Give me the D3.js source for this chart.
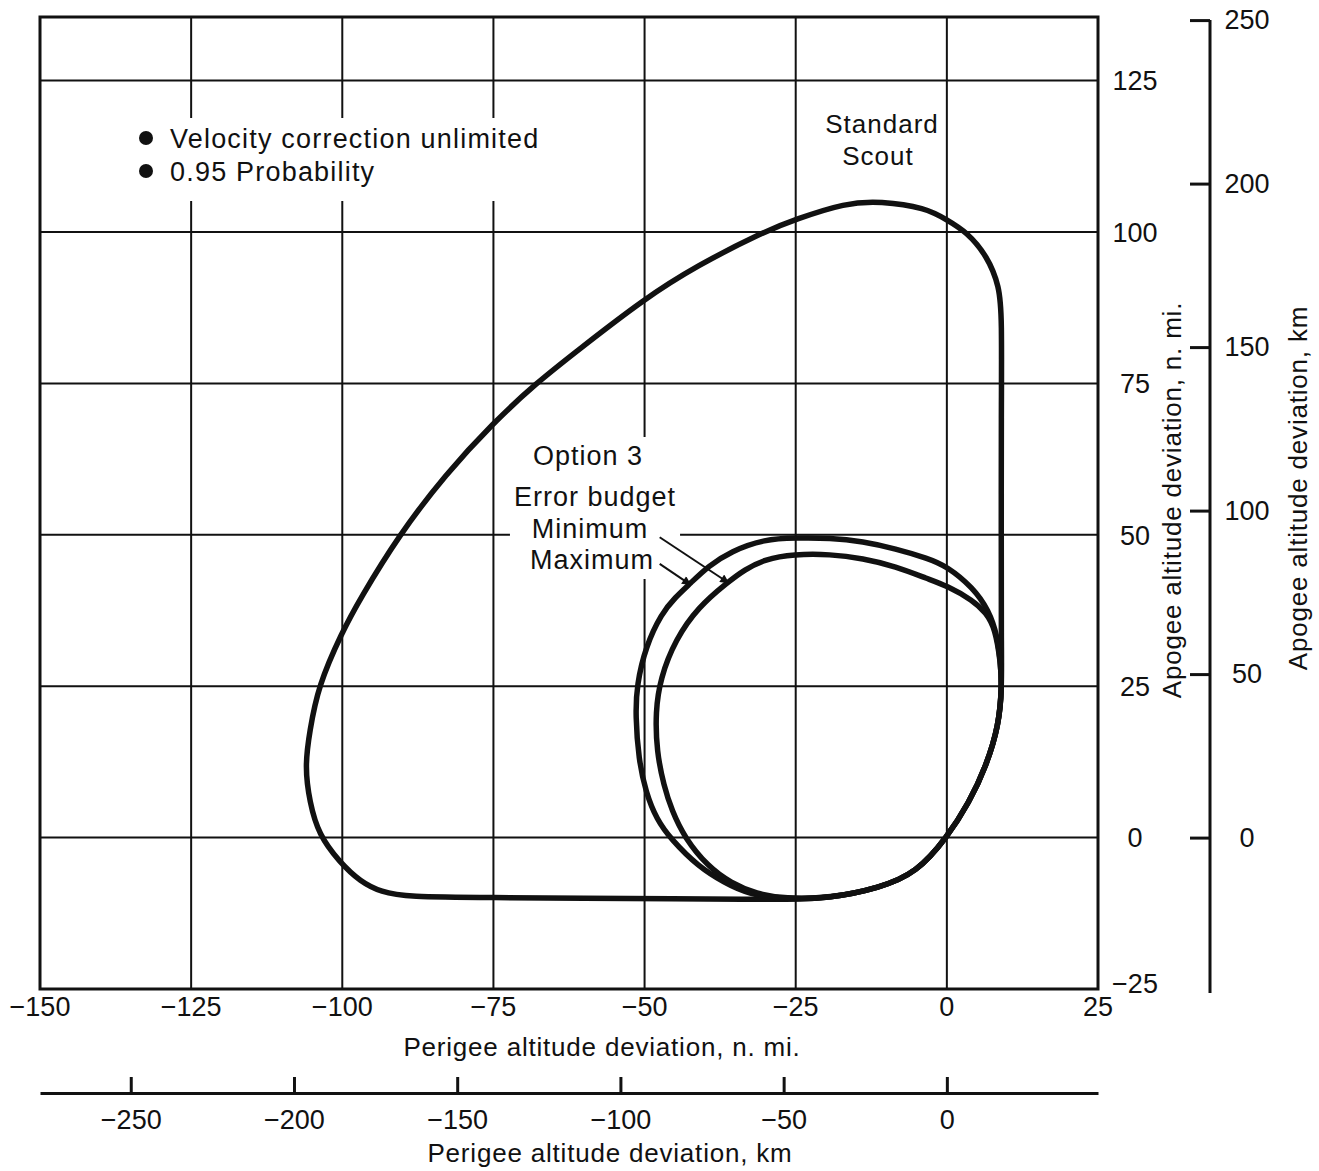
<!DOCTYPE html>
<html>
<head>
<meta charset="utf-8">
<script src="https://cdn.jsdelivr.net/npm/d3@7"></script>
<style>
  body { margin: 0; background: #fff; }
  text { font-family: "Liberation Sans", Arial, Helvetica, sans-serif; fill: #111; }
</style>
</head>
<body>
<svg id="chart" width="1319" height="1171"></svg>
<script>
// ---- tick values -------------------------------------------------------
const xTicksNmi = [-150, -125, -100, -75, -50, -25, 0, 25];
const yTicksNmi = [-25, 0, 25, 50, 75, 100, 125];
const xTicksKm = [-250, -200, -150, -100, -50, 0];
const yTicksKm = [0, 50, 100, 150, 200, 250];
const KM_PER_NMI = 1.852;

// ---- Standard Scout dispersion boundary (n. mi.) ------------------------
const scoutPerigee = [-89.5, -75, -60, -45, -32.9, -26.8, -19.3, -11.1, -5, 0, 3.7, 6.5, 8.6, 9.1, 9.0, 9.0, 9.0, 9.1,
  8.7, 6.7, 3.3, 0, -3.5, -11, -16.8, -25, -30.4, -41.4, -50, -61, -68, -75, -82.9, -90.6, -97.2, -100, -104,
  -105.4, -106.2, -105.4, -103.9, -100.5, -97, -93.5];
const scoutApogee = [-9.8, -9.9, -10, -10.1, -10.2, -10.2, -10, -8.3, -5.8, 0, 5.8, 11.8, 18.5, 25, 32, 50, 70, 86,
  91, 96, 100, 102, 104, 105.1, 104.8, 102.1, 100, 94.4, 89, 80.5, 75, 68.5, 60, 50, 39.2, 34, 25,
  17.5, 11.8, 5.8, 0.5, -4, -7.3, -9];

// ---- Option 3, maximum error budget (n. mi.) ----------------------------
const maxPerigee = [-13.9, -19.3, -25, -30.1, -35.7, -39.5, -42.4, -45, -47.2, -49.8, -51.3, -51.5, -51, -49.8, -48,
  -45.6, -41.1, -36.7, -32.9, -26.8, -19.3, -11.1, -5, 0, 3.7, 6.5, 8.6, 9.1, 8.9, 8.4, 6.9, 4.3, 0, -3.1, -8.5];
const maxApogee = [48.9, 49.5, 49.5, 49.3, 47.3, 44.8, 42, 39.6, 37, 31.6, 25.2, 20.2, 13, 7.5, 3,
  -0.3, -4.8, -7.5, -9.3, -10.2, -10, -8.3, -5.8, 0, 5.8, 11.8, 18.5, 25, 28.4, 33.2, 37.6, 41.3, 44.8, 46.1, 47.7];

// ---- Option 3, minimum error budget (n. mi.) ----------------------------
const minPerigee = [-13.9, -19.3, -25.3, -30.1, -33.5, -36.2, -41.1, -44.9, -47.4, -48.2, -48, -46.8, -45.5, -43.4,
  -39.5, -35.7, -31.5, -26.8, -19.3, -11.1, -5, 0, 3.7, 6.5, 8.6, 9.1, 8.9, 8.0, 6.5, 4.3, 0, -3.1, -8.5];
const minApogee = [46.1, 46.8, 46.8, 46, 44.2, 42.2, 38.1, 32.7, 26.3, 20.8, 14.2, 8.5, 4.5, 0,
  -4.8, -7.5, -9.3, -10.1, -10, -8.3, -5.8, 0, 5.8, 11.8, 18.5, 25, 28.8, 34.5, 37.1, 39.2, 41.6, 42.7, 44.8];

// ---- annotation text ----------------------------------------------------
const legendLines = ["Velocity correction unlimited", "0.95 Probability"];
const scoutLabel = ["Standard", "Scout"];
const optionLabel = ["Option 3", "Error budget", "Minimum", "Maximum"];
// leader lines: [start perigee, start apogee, end perigee, end apogee]
const minLeader = [-47.5, 49.6, -36.0, 42.0];
const maxLeader = [-47.5, 45.2, -42.3, 41.7];

// ---- scales ----------------------------------------------------------------
const svg = d3.select("#chart");
const L = 40, R = 1098, T = 17, B = 989;
const x = d3.scaleLinear().domain([-150, 25]).range([L, R]);
const y = d3.scaleLinear().domain([-25, 135.5]).range([B, T]);
const xKm = d3.scaleLinear().domain(x.domain().map(v => v * KM_PER_NMI)).range(x.range());
const yKm = d3.scaleLinear().domain(y.domain().map(v => v * KM_PER_NMI)).range(y.range());
const fmt = d3.format("d");

const gGrid = svg.append("g");
const gKnock = svg.append("g");
const gCurves = svg.append("g");
const gText = svg.append("g");

// ---- grid ------------------------------------------------------------------
gGrid.selectAll("line.vx").data(xTicksNmi.filter(v => v > -150 && v < 25)).join("line")
  .attr("x1", d => x(d)).attr("x2", d => x(d)).attr("y1", T).attr("y2", B)
  .attr("stroke", "#111").attr("stroke-width", 2);
gGrid.selectAll("line.hy").data(yTicksNmi.filter(v => v > -25)).join("line")
  .attr("x1", L).attr("x2", R).attr("y1", d => y(d)).attr("y2", d => y(d))
  .attr("stroke", "#111").attr("stroke-width", 2);
gGrid.append("rect").attr("x", L).attr("y", T).attr("width", R - L).attr("height", B - T)
  .attr("fill", "none").attr("stroke", "#111").attr("stroke-width", 3);

// ---- n. mi. tick labels ------------------------------------------------------
gText.selectAll("text.xl").data(xTicksNmi).join("text")
  .attr("x", d => x(d)).attr("y", 1016).attr("text-anchor", "middle")
  .attr("font-size", 27).text(d => fmt(d));
gText.selectAll("text.yl").data(yTicksNmi).join("text")
  .attr("x", 1135).attr("y", d => y(d) - (d === -25 ? 6 : 0)).attr("dy", "0.36em").attr("text-anchor", "middle")
  .attr("font-size", 27).text(d => fmt(d));

gText.append("text").attr("x", 602).attr("y", 1056).attr("text-anchor", "middle")
  .attr("font-size", 26).attr("letter-spacing", 0.8).text("Perigee altitude deviation, n. mi.");
gText.append("text").attr("transform", "translate(1181,500) rotate(-90)").attr("text-anchor", "middle")
  .attr("font-size", 26).attr("letter-spacing", 0.8).text("Apogee altitude deviation, n. mi.");

// ---- km axes ----------------------------------------------------------------
const axR = svg.append("g").attr("transform", "translate(1210,0)")
  .call(d3.axisLeft(yKm).tickValues(yTicksKm).tickSize(20).tickSizeOuter(0).tickFormat(fmt));
axR.select(".domain").attr("d", `M0,${yKm(250)}V${B + 4}`);
axR.selectAll("path,line").attr("stroke", "#111").attr("stroke-width", 3);
axR.selectAll("text").attr("x", 37).attr("text-anchor", "middle")
  .attr("font-size", 27).attr("font-family", null).attr("fill", "#111");
svg.append("text").attr("transform", "translate(1307,488) rotate(-90)").attr("text-anchor", "middle")
  .attr("font-size", 26).attr("letter-spacing", 0.8).text("Apogee altitude deviation, km");

const axB = svg.append("g").attr("transform", "translate(0,1093)")
  .call(d3.axisTop(xKm).tickValues(xTicksKm).tickSize(16).tickSizeOuter(0).tickFormat(fmt));
axB.selectAll("path,line").attr("stroke", "#111").attr("stroke-width", 3);
axB.selectAll("text").attr("y", 36).attr("dy", null)
  .attr("font-size", 27).attr("font-family", null).attr("fill", "#111");
svg.append("text").attr("x", 610).attr("y", 1162).attr("text-anchor", "middle")
  .attr("font-size", 26).attr("letter-spacing", 0.8).text("Perigee altitude deviation, km");

// ---- annotations inside the plot --------------------------------------------
const legend = gText.append("g");
legendLines.forEach((t, i) => {
  legend.append("circle").attr("cx", 146).attr("cy", 138 + i * 33).attr("r", 7).attr("fill", "#111");
  legend.append("text").attr("x", 170).attr("y", 148 + i * 33).attr("font-size", 27)
    .attr("letter-spacing", 1.2).text(t);
});

const scoutG = gText.append("g");
scoutLabel.forEach((t, i) => {
  scoutG.append("text").attr("x", 882 - i * 4).attr("y", 133 + i * 32).attr("text-anchor", "middle")
    .attr("font-size", 26).attr("letter-spacing", 1).text(t);
});

const optG = gText.append("g");
const optPos = [[588, 465], [595, 506], [590, 538], [592, 569]];
optionLabel.forEach((t, i) => {
  optG.append("text").attr("x", optPos[i][0]).attr("y", optPos[i][1]).attr("text-anchor", "middle")
    .attr("font-size", 27).attr("letter-spacing", 1).text(t);
});

// white knock-outs so grid lines stop short of the lettering
function knock(g, padX, padTop, padBot) {
  const b = g.node().getBBox();
  gKnock.append("rect").attr("x", b.x - padX).attr("y", b.y - padTop)
    .attr("width", b.width + 2 * padX).attr("height", b.height + padTop + padBot).attr("fill", "#fff");
}
knock(legend, 8, 6, 14);
knock(optG, 4, 4, 4);

// ---- curves -----------------------------------------------------------------
const line = d3.line().x(d => x(d[0])).y(d => y(d[1])).curve(d3.curveBasisClosed);
const zipPts = (a, b) => a.map((v, i) => [v, b[i]]);
[[scoutPerigee, scoutApogee], [maxPerigee, maxApogee], [minPerigee, minApogee]].forEach(([px, py]) => {
  gCurves.append("path").attr("d", line(zipPts(px, py)))
    .attr("fill", "none").attr("stroke", "#111").attr("stroke-width", 5.5).attr("stroke-linejoin", "round");
});

// ---- leader arrows ----------------------------------------------------------
svg.append("defs").append("marker").attr("id", "arrow")
  .attr("viewBox", "0 0 10 10").attr("refX", 10).attr("refY", 5)
  .attr("markerWidth", 14).attr("markerHeight", 9).attr("markerUnits", "userSpaceOnUse")
  .attr("orient", "auto")
  .append("path").attr("d", "M0,0L10,5L0,10Z").attr("fill", "#111");
[minLeader, maxLeader].forEach(l => {
  gText.append("line").attr("x1", x(l[0])).attr("y1", y(l[1])).attr("x2", x(l[2])).attr("y2", y(l[3]))
    .attr("stroke", "#111").attr("stroke-width", 2).attr("marker-end", "url(#arrow)");
});
</script>
</body>
</html>
